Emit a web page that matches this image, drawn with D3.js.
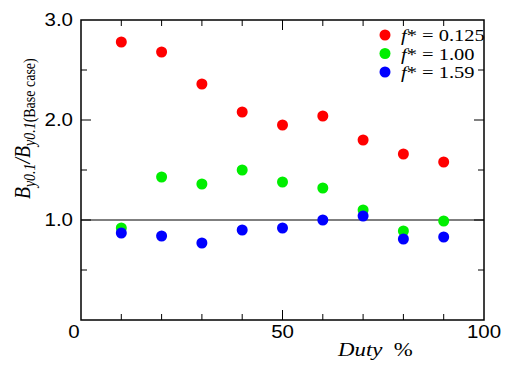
<!DOCTYPE html>
<html>
<head>
<meta charset="utf-8">
<script src="https://cdn.jsdelivr.net/npm/d3@7"></script>
<style>
  body { margin: 0; background: #fff; }
  svg { display: block; }
</style>
</head>
<body>
<svg width="507" height="367"></svg>
<script>
// duty cycle (%) on the x axis
const duty = [10, 20, 30, 40, 50, 60, 70, 80, 90];

// By0.1 / By0.1(base case) for each f*
const red = [2.78, 2.68, 2.36, 2.08, 1.95, 2.04, 1.80, 1.66, 1.58];
const green = [0.92, 1.43, 1.36, 1.50, 1.38, 1.32, 1.10, 0.89, 0.99];
const blue = [0.87, 0.84, 0.77, 0.90, 0.92, 1.00, 1.04, 0.81, 0.83];

const seriesNames = ["0.125", "1.00", "1.59"];
const seriesColors = ["#ff0000", "#00ee00", "#0000ff"];
const seriesValues = [red, green, blue];

const xTickLabels = [0, 50, 100];
const yTickLabels = ["1.0", "2.0", "3.0"];

const svg = d3.select("svg");

const plotLeft = 81, plotRight = 484, plotTop = 20, plotBottom = 320;
const stretch = 1.17; // the original figure is a bit wider than tall

const x = d3.scaleLinear().domain([0, 100]).range([plotLeft, plotRight]);
const y = d3.scaleLinear().domain([0, 3]).range([plotBottom, plotTop]);

const sans = "Liberation Sans, Arial, sans-serif";
const serif = "Liberation Serif, Times New Roman, serif";

// inward ticks on all four sides
const xMinor = d3.range(10, 100, 10);
const yTicks = [0.5, 1, 1.5, 2, 2.5];

const ticks = svg.append("g").attr("stroke", "#000").attr("stroke-width", 1);

xMinor.forEach(v => {
    let len = v === 50 ? 10 : 6;
    ticks.append("line")
        .attr("x1", x(v)).attr("x2", x(v))
        .attr("y1", plotBottom).attr("y2", plotBottom - len);
    ticks.append("line")
        .attr("x1", x(v)).attr("x2", x(v))
        .attr("y1", plotTop).attr("y2", plotTop + len);
});

yTicks.forEach(v => {
    let len = Number.isInteger(v) ? 10 : 6;
    ticks.append("line")
        .attr("x1", plotLeft).attr("x2", plotLeft + len)
        .attr("y1", y(v)).attr("y2", y(v));
    ticks.append("line")
        .attr("x1", plotRight).attr("x2", plotRight - len)
        .attr("y1", y(v)).attr("y2", y(v));
});

// reference line at 1.0
svg.append("line")
    .attr("x1", plotLeft).attr("x2", plotRight)
    .attr("y1", y(1)).attr("y2", y(1))
    .attr("stroke", "#000")
    .attr("stroke-width", 1.2);

// frame
svg.append("rect")
    .attr("x", plotLeft).attr("y", plotTop)
    .attr("width", plotRight - plotLeft).attr("height", plotBottom - plotTop)
    .attr("fill", "none")
    .attr("stroke", "#000")
    .attr("stroke-width", 1.5);

// tick labels
svg.append("g")
    .selectAll("text")
    .data(xTickLabels)
    .join("text")
    .attr("transform", d => `translate(${d === 0 ? x(d) - 7 : x(d)},338) scale(${stretch},1)`)
    .attr("text-anchor", "middle")
    .attr("font-family", sans)
    .attr("font-size", 17.5)
    .text(d => d);

svg.append("g")
    .selectAll("text")
    .data(yTickLabels)
    .join("text")
    .attr("transform", (d, i) => `translate(73,${y(i + 1) + 6}) scale(${stretch},1)`)
    .attr("text-anchor", "end")
    .attr("font-family", sans)
    .attr("font-size", 17.5)
    .text(d => d);

// axis titles
const xTitle = svg.append("text")
    .attr("transform", `translate(338,356) scale(${stretch},1)`)
    .attr("font-family", serif)
    .attr("font-size", 19.5);
xTitle.append("tspan").attr("font-style", "italic").text("Duty");
xTitle.append("tspan").text("\u00a0 %");

const yTitle = svg.append("text")
    .attr("transform", `translate(30,199) scale(${stretch},1) rotate(-90)`)
    .attr("font-family", serif)
    .attr("font-size", 19.5);
yTitle.append("tspan").attr("font-style", "italic").text("B");
yTitle.append("tspan").attr("font-style", "italic").attr("font-size", 14).attr("dy", 4).text("y0.1");
yTitle.append("tspan").attr("dy", -4).attr("font-style", "italic").text("/");
yTitle.append("tspan").attr("font-style", "italic").text("B");
yTitle.append("tspan").attr("font-style", "italic").attr("font-size", 14).attr("dy", 4).text("y0.1");
yTitle.append("tspan").attr("font-size", 14).text("(Base case)");

// points
seriesValues.forEach((vals, s) => {
    svg.append("g")
        .selectAll("circle")
        .data(vals)
        .join("circle")
        .attr("cx", (d, i) => x(duty[i]))
        .attr("cy", d => y(d))
        .attr("r", 5.5)
        .attr("fill", seriesColors[s]);
});

// legend
const legend = svg.append("g");
seriesNames.forEach((name, i) => {
    let ly = 35 + i * 18.5;
    legend.append("circle")
        .attr("cx", 385).attr("cy", ly)
        .attr("r", 5.5)
        .attr("fill", seriesColors[i]);
    let t = legend.append("text")
        .attr("transform", `translate(401,${ly + 6}) scale(${stretch},1)`)
        .attr("font-family", serif)
        .attr("font-size", 17.5);
    t.append("tspan").attr("font-style", "italic").text("f");
    t.append("tspan").text("* = " + name);
});
</script>
</body>
</html>
